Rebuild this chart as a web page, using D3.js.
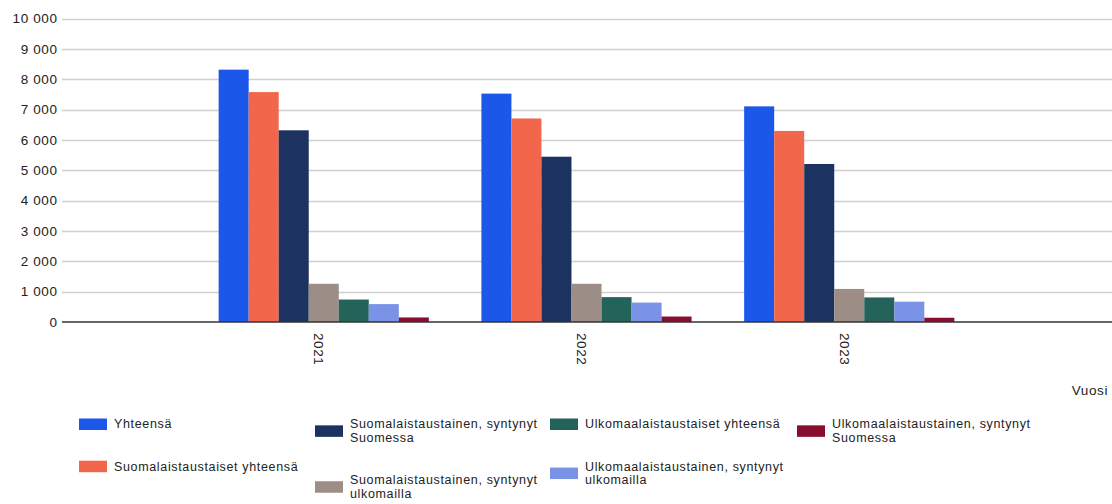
<!DOCTYPE html>
<html>
<head>
<meta charset="utf-8">
<script src="https://cdn.jsdelivr.net/npm/d3@7"></script>
<style>
  html, body { margin: 0; padding: 0; background: #ffffff; }
  svg { display: block; font-family: "Liberation Sans", Arial, sans-serif; }
  .tick-label { font-size: 13.5px; fill: #222; letter-spacing: 0.6px; }
  .legend-text { font-size: 12.5px; fill: #222; letter-spacing: 0.65px; }
</style>
</head>
<body>
<svg id="chart" width="1112" height="504"></svg>
<script>
// Years on the x axis
const years = ["2021", "2022", "2023"];

// Series names (legend order = bar order within each year)
const seriesNames = [
  "Yhteensä",
  "Suomalaistaustaiset yhteensä",
  "Suomalaistaustainen, syntynyt Suomessa",
  "Suomalaistaustainen, syntynyt ulkomailla",
  "Ulkomaalaistaustaiset yhteensä",
  "Ulkomaalaistaustainen, syntynyt ulkomailla",
  "Ulkomaalaistaustainen, syntynyt Suomessa"
];

// Values per series, one per year
const yhteensa            = [8320, 7530, 7110];
const suomTaustYht        = [7580, 6710, 6300];
const suomSyntSuomessa    = [6320, 5450, 5210];
const suomSyntUlkomailla  = [1260, 1260, 1090];
const ulkTaustYht         = [740, 820, 810];
const ulkSyntUlkomailla   = [590, 640, 670];
const ulkSyntSuomessa     = [150, 180, 140];

const seriesValues = [
  yhteensa, suomTaustYht, suomSyntSuomessa, suomSyntUlkomailla,
  ulkTaustYht, ulkSyntUlkomailla, ulkSyntSuomessa
];

const seriesColors = [
  "#1b57e8", "#f2664b", "#1c3260", "#9c8d86",
  "#24635a", "#7a93e6", "#870f2e"
];

// Y axis ticks
const yTicks = [0, 1000, 2000, 3000, 4000, 5000, 6000, 7000, 8000, 9000, 10000];
const xAxisTitle = "Vuosi";

const svg = d3.select("#chart");

const plotLeft = 62, plotRight = 1112, plotTop = 18.7, plotBottom = 322;

const y = d3.scaleLinear().domain([0, 10000]).range([plotBottom, plotTop]);
const x0 = d3.scaleBand().domain(years).range([61, 1112])
  .paddingInner(0.2).paddingOuter(0.6);
const x1 = d3.scaleBand().domain(d3.range(seriesNames.length))
  .range([0, x0.bandwidth()]).padding(0);

const fmt = v => d3.format(",")(v).replace(/,/g, " ");

// Gridlines
svg.append("g").selectAll("line")
  .data(yTicks.filter(t => t > 0))
  .join("line")
  .attr("x1", plotLeft).attr("x2", plotRight)
  .attr("y1", d => Math.round(y(d)) + 0.5).attr("y2", d => Math.round(y(d)) + 0.5)
  .attr("stroke", "#cfcfcf").attr("stroke-width", 1.4);

// Y tick labels
svg.append("g").selectAll("text")
  .data(yTicks)
  .join("text")
  .attr("class", "tick-label")
  .attr("x", 57.5)
  .attr("y", d => y(d))
  .attr("dy", "0.35em")
  .attr("text-anchor", "end")
  .text(fmt);

// Bars
const groups = svg.append("g").selectAll("g")
  .data(years)
  .join("g")
  .attr("transform", d => `translate(${x0(d)},0)`);

groups.selectAll("rect")
  .data((yr, yi) => seriesValues.map((vals, si) => ({ si, v: vals[yi] })))
  .join("rect")
  .attr("x", d => x1(d.si))
  .attr("width", x1.bandwidth())
  .attr("y", d => y(d.v))
  .attr("height", d => y(0) - y(d.v))
  .attr("fill", d => seriesColors[d.si]);

// Baseline
svg.append("line")
  .attr("x1", plotLeft).attr("x2", plotRight)
  .attr("y1", y(0)).attr("y2", y(0))
  .attr("stroke", "#333").attr("stroke-width", 1.5);

// Year labels (rotated)
svg.append("g").selectAll("text")
  .data(years)
  .join("text")
  .attr("class", "tick-label")
  .attr("transform", d => `translate(${x0(d) + x0.bandwidth() / 2 - 5},333) rotate(90)`)
  .attr("dy", "0.35em")
  .attr("text-anchor", "start")
  .text(d => d);

// Axis title
svg.append("text")
  .attr("class", "tick-label")
  .attr("x", 1108).attr("y", 390)
  .attr("dy", "0.35em")
  .attr("text-anchor", "end")
  .text(xAxisTitle);

// Legend: four columns, two entries each, long names wrapped to two lines
const legendLayout = [
  { col: 0, lines: ["Yhteensä"] },
  { col: 0, lines: ["Suomalaistaustaiset yhteensä"] },
  { col: 1, lines: ["Suomalaistaustainen, syntynyt", "Suomessa"] },
  { col: 1, lines: ["Suomalaistaustainen, syntynyt", "ulkomailla"] },
  { col: 2, lines: ["Ulkomaalaistaustaiset yhteensä"] },
  { col: 2, lines: ["Ulkomaalaistaustainen, syntynyt", "ulkomailla"] },
  { col: 3, lines: ["Ulkomaalaistaustainen, syntynyt", "Suomessa"] }
];
const colX = [79, 315, 550, 797];
const lineH = 13.7, entryGap = 28.5, firstLineY = 424;
const colCursor = [firstLineY, firstLineY, firstLineY, firstLineY];

legendLayout.forEach((entry, i) => {
  const cx = colX[entry.col];
  const y0 = colCursor[entry.col];
  const n = entry.lines.length;
  const blockMid = y0 + (n - 1) * lineH / 2;
  const g = svg.append("g");
  g.append("rect")
    .attr("x", cx).attr("y", blockMid - 5.5)
    .attr("width", 28).attr("height", 11.5)
    .attr("fill", seriesColors[i]);
  const t = g.append("text").attr("class", "legend-text");
  entry.lines.forEach((ln, li) => {
    t.append("tspan")
      .attr("x", cx + 35)
      .attr("y", y0 + li * lineH)
      .attr("dy", "0.35em")
      .text(ln);
  });
  colCursor[entry.col] = y0 + n * lineH + entryGap;
});
</script>
</body>
</html>
